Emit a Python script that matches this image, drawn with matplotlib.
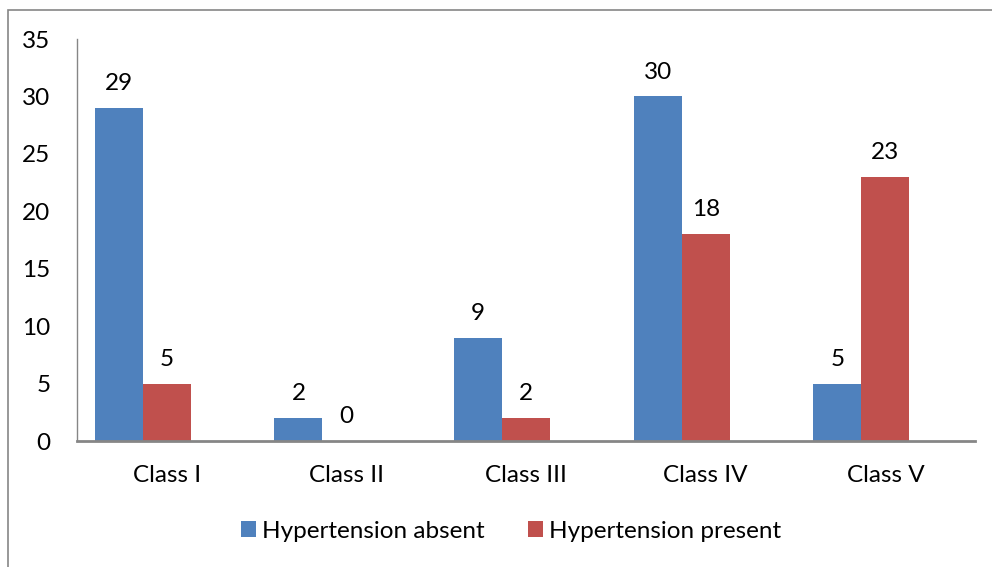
import numpy as np
import matplotlib.pyplot as plt
from matplotlib.patches import Rectangle

plt.rcParams['font.family'] = ['Lato', 'DejaVu Sans']

# --- data ---
classes = ["Class I", "Class II", "Class III", "Class IV", "Class V"]
absent = [29, 2, 9, 30, 5]
present = [5, 0, 2, 18, 23]
series_names = ["Hypertension absent", "Hypertension present"]
y_ticks = [0, 5, 10, 15, 20, 25, 30, 35]

blue = "#4F81BD"
red = "#C0504D"
grey = "#868686"
fs = 17.5

fig = plt.figure(figsize=(9.92, 5.67), dpi=100)
ax = fig.add_axes([0.0776, 0.2222, 0.9054, 0.709])

# outer chart border (partly off the page)
fig.patches.append(Rectangle((8 / 992, -0.1), 1.2, 1 - 10 / 567 + 0.1,
                             transform=fig.transFigure, fill=False,
                             edgecolor=grey, linewidth=1.2))

x = np.arange(len(classes))
w = 0.267
b1 = ax.bar(x - w, absent, width=w, color=blue, label=series_names[0])
b2 = ax.bar(x, present, width=w, color=red, label=series_names[1])

for bars, vals in [(b1, absent), (b2, present)]:
    for bar, v in zip(bars, vals):
        ax.annotate(str(v), (bar.get_x() + bar.get_width() / 2, v),
                    xytext=(0, 10), textcoords="offset points",
                    ha="center", va="bottom", fontsize=fs)

ax.set_xlim(-0.5, len(classes) - 0.5)
ax.set_ylim(0, 35)
ax.set_yticks(y_ticks)
ax.set_xticks(x)
ax.set_xticklabels(classes)
ax.tick_params(axis="both", length=0, labelsize=fs)
ax.tick_params(axis="x", pad=17)
ax.tick_params(axis="y", pad=19)

for side in ["top", "right"]:
    ax.spines[side].set_visible(False)
for side in ["left", "bottom"]:
    ax.spines[side].set_color(grey)
ax.spines["left"].set_linewidth(1.0)
ax.spines["bottom"].set_linewidth(2.0)

fig.legend(loc="center", bbox_to_anchor=(0.515, 0.063), ncol=2, frameon=False,
           fontsize=fs, handlelength=0.6, handleheight=0.6,
           handletextpad=0.25, columnspacing=1.8)

fig.savefig("out.png", dpi=100)
